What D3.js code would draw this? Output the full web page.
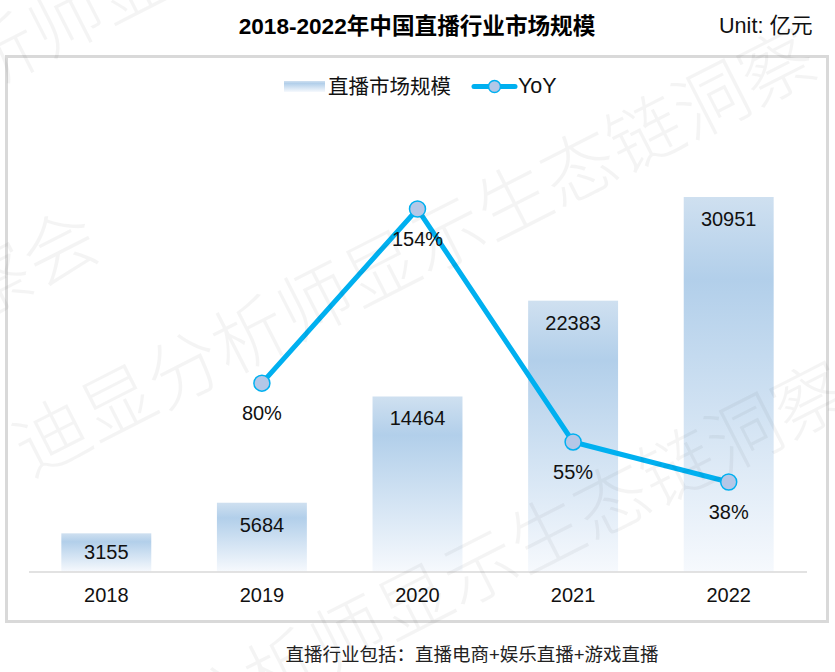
<!DOCTYPE html>
<html>
<head>
<meta charset="utf-8">
<script src="https://cdn.jsdelivr.net/npm/d3@7"></script>
<style>
  body { margin: 0; background: #fff; }
  text { font-family: "Liberation Sans", "Noto Sans CJK SC", sans-serif; fill: #111; }
</style>
</head>
<body>
<script>
// Values
const years = ['2018', '2019', '2020', '2021', '2022'];
const marketSize = [3155, 5684, 14464, 22383, 30951];
const yoyYears = ['2019', '2020', '2021', '2022'];
const yoy = [80, 154, 55, 38];

const svg = d3.select('body').append('svg')
  .attr('width', 835)
  .attr('height', 672)
  .style('display', 'block');

// Gradient shared by the bars and the legend swatch
const grad = svg.append('defs').append('linearGradient')
  .attr('id', 'barFill')
  .attr('x1', 0).attr('y1', 0).attr('x2', 0).attr('y2', 1);
grad.append('stop').attr('offset', '0%').attr('stop-color', '#cfe0f0');
grad.append('stop').attr('offset', '22%').attr('stop-color', '#b2cfea');
grad.append('stop').attr('offset', '100%').attr('stop-color', '#f6f9fd');

const baseY = 571.5;
const x = d3.scaleBand().domain(years).range([28.5, 806.5]).paddingInner(0.422).paddingOuter(0.211);
const y = d3.scaleLinear().domain([0, 30951]).range([baseY, 197]);
const yLine = d3.scaleLinear().domain([38, 154]).range([482, 209]);

// Frame
svg.append('rect')
  .attr('x', 6.5).attr('y', 56.5)
  .attr('width', 821).attr('height', 565)
  .attr('fill', 'none')
  .attr('stroke', '#d9d9d9')
  .attr('stroke-width', 3);

// Title, unit and note
svg.append('text')
  .attr('x', 417).attr('y', 34)
  .attr('text-anchor', 'middle')
  .attr('font-size', 22.6)
  .attr('font-weight', 'bold')
  .style('fill', '#000')
  .text('2018-2022年中国直播行业市场规模');

svg.append('text')
  .attr('x', 719).attr('y', 33)
  .attr('font-size', 21.6)
  .text('Unit: 亿元');

svg.append('text')
  .attr('x', 472).attr('y', 661)
  .attr('text-anchor', 'middle')
  .attr('font-size', 18.5)
  .style('fill', '#222')
  .text('直播行业包括：直播电商+娱乐直播+游戏直播');

// Bars
svg.selectAll('.bar')
  .data(marketSize)
  .enter()
  .append('rect')
  .attr('class', 'bar')
  .attr('x', (d, n) => x(years[n]))
  .attr('y', d => y(d))
  .attr('width', x.bandwidth())
  .attr('height', d => baseY - y(d))
  .attr('fill', 'url(#barFill)');

// Value labels, the shortest bar keeps its label a bit higher
svg.selectAll('.bar-label')
  .data(marketSize)
  .enter()
  .append('text')
  .attr('class', 'bar-label')
  .attr('x', (d, n) => x(years[n]) + x.bandwidth() / 2)
  .attr('y', d => y(d) + Math.min(29, (baseY - y(d)) * 0.67))
  .attr('text-anchor', 'middle')
  .attr('font-size', 20)
  .text(d => d);

// X axis
const xAxis = d3.axisBottom(x).tickSize(0).tickPadding(16.5);
const axisG = svg.append('g')
  .attr('transform', `translate(0, ${baseY})`)
  .call(xAxis);
axisG.select('.domain').attr('stroke', '#d9d9d9').attr('stroke-width', 1.5);
axisG.selectAll('text')
  .attr('font-size', 20)
  .style('font-family', '"Liberation Sans", sans-serif')
  .style('fill', '#111');

// YoY line
const lineX = d => x(d) + x.bandwidth() / 2;
const line = d3.line()
  .x((d, n) => lineX(yoyYears[n]))
  .y(d => yLine(d));

svg.append('path')
  .datum(yoy)
  .attr('d', line)
  .attr('fill', 'none')
  .attr('stroke', '#00b0f0')
  .attr('stroke-width', 5);

svg.selectAll('.dot')
  .data(yoy)
  .enter()
  .append('circle')
  .attr('class', 'dot')
  .attr('cx', (d, n) => lineX(yoyYears[n]))
  .attr('cy', d => yLine(d))
  .attr('r', 8)
  .attr('fill', '#b4c7e7')
  .attr('stroke', '#00b0f0')
  .attr('stroke-width', 1.5);

svg.selectAll('.yoy-label')
  .data(yoy)
  .enter()
  .append('text')
  .attr('class', 'yoy-label')
  .attr('x', (d, n) => lineX(yoyYears[n]))
  .attr('y', d => yLine(d) + 37)
  .attr('text-anchor', 'middle')
  .attr('font-size', 20)
  .text(d => `${d}%`);

// Legend
const legend = svg.append('g');
legend.append('rect')
  .attr('x', 284).attr('y', 81)
  .attr('width', 41).attr('height', 11)
  .attr('fill', 'url(#barFill)');
legend.append('text')
  .attr('x', 328).attr('y', 94)
  .attr('font-size', 20.5)
  .text('直播市场规模');
legend.append('line')
  .attr('x1', 474).attr('x2', 515)
  .attr('y1', 86.5).attr('y2', 86.5)
  .attr('stroke', '#00b0f0')
  .attr('stroke-width', 5)
  .attr('stroke-linecap', 'round');
legend.append('circle')
  .attr('cx', 494.5).attr('cy', 86.5)
  .attr('r', 6)
  .attr('fill', '#b4c7e7')
  .attr('stroke', '#00b0f0')
  .attr('stroke-width', 1.5);
legend.append('text')
  .attr('x', 518).attr('y', 93)
  .attr('font-size', 21.5)
  .text('YoY');

// Watermark, drawn over the chart
const watermarkText = '迪显分析师显示生态链洞察';
[[52, 437, watermarkText], [85, 770, watermarkText], [-197, 154, watermarkText], [-6, 282, '察会']].forEach(p => {
  svg.append('text')
    .attr('transform', `translate(${p[0]}, ${p[1]}) rotate(-27)`)
    .attr('x', -37).attr('y', 26)
    .attr('font-size', 74)
    .style('font-family', '"Noto Sans CJK SC", sans-serif')
    .style('font-weight', 300)
    .style('fill', '#000')
    .attr('fill-opacity', 0.045)
    .text(p[2]);
});
</script>
</body>
</html>
